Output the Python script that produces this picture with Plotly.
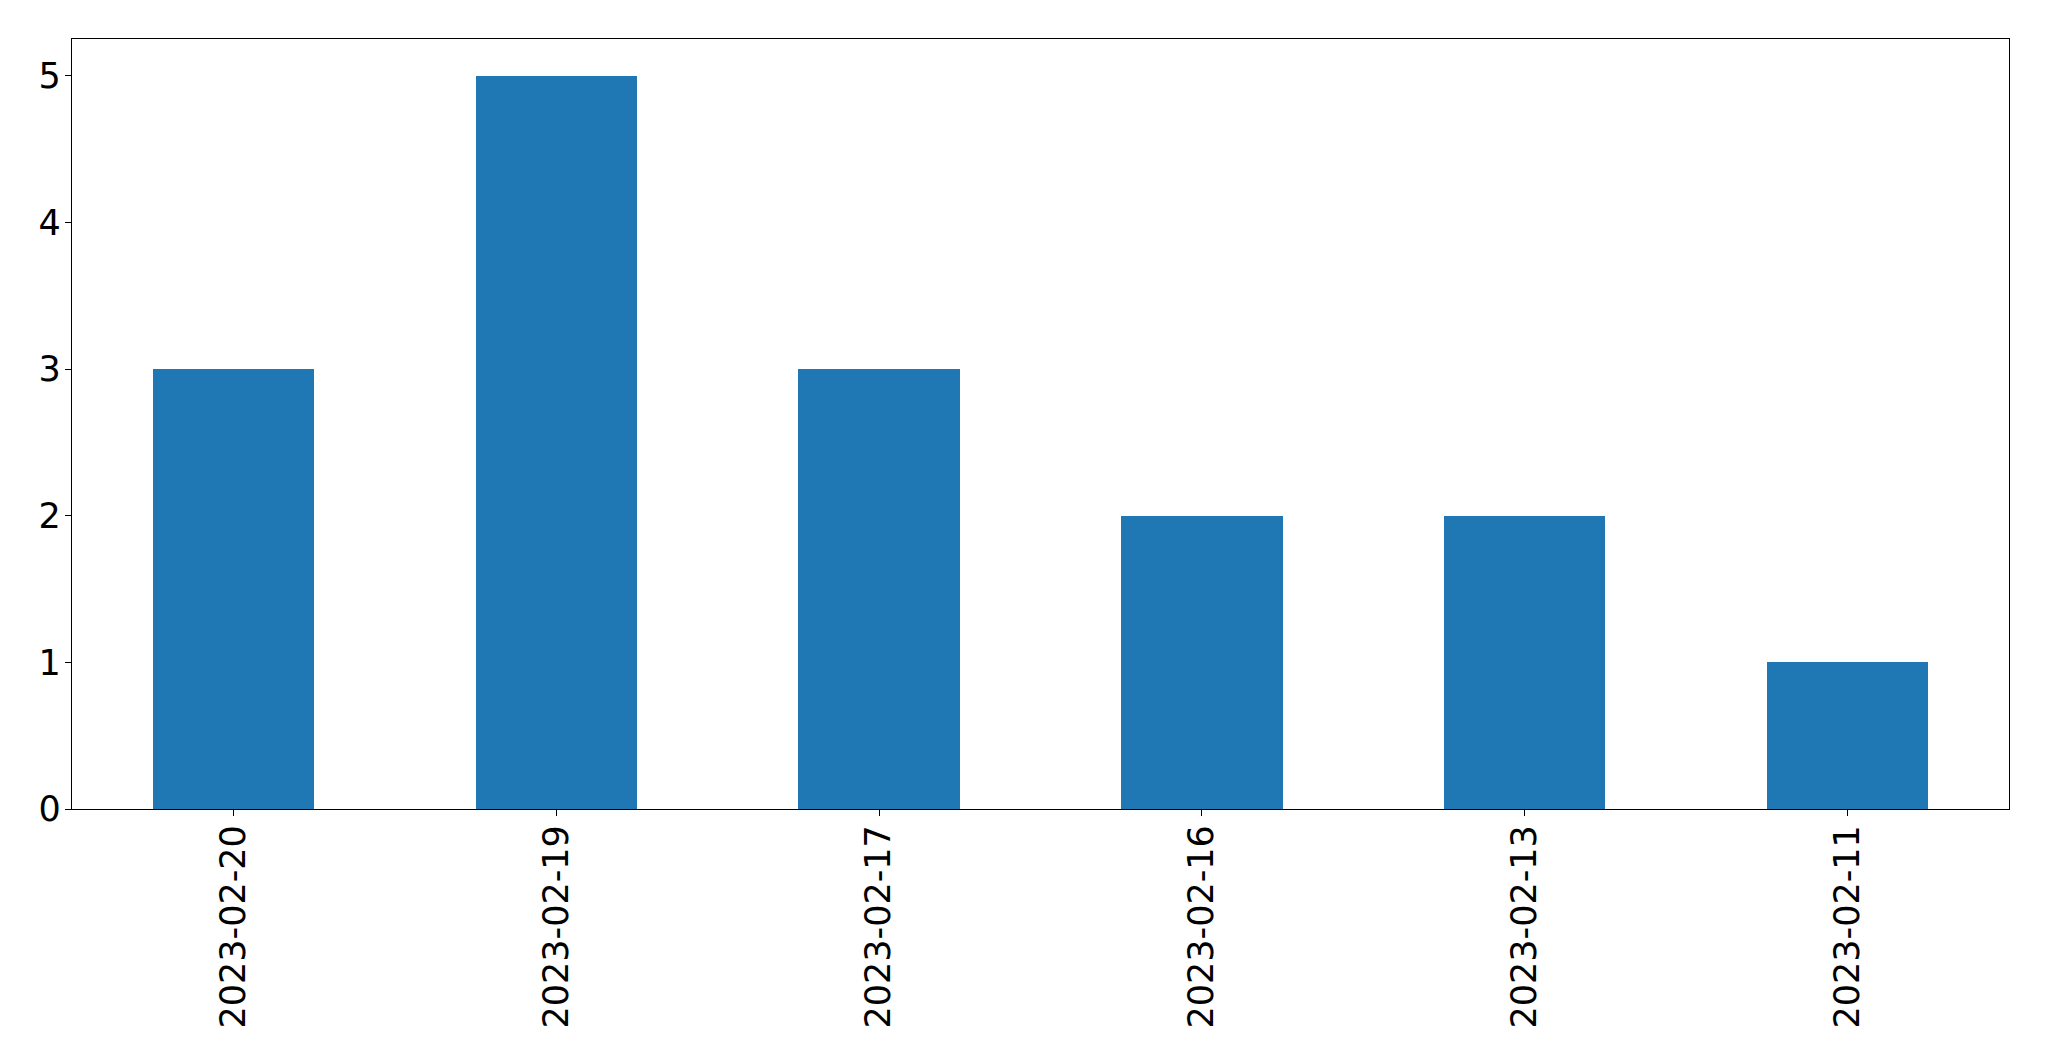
import plotly.graph_objects as go

categories = ["2023-02-20", "2023-02-19", "2023-02-17", "2023-02-16", "2023-02-13", "2023-02-11"]
values = [3, 5, 3, 2, 2, 1]
y_ticks = [0, 1, 2, 3, 4, 5]

fig = go.Figure(go.Bar(x=categories, y=values, marker=dict(color="#1f77b4", line=dict(width=0)), width=0.5))

# page body has an 8px default margin, so the figure is offset by (8, 8)
W, H = 2041, 1053
fig.update_layout(
    width=W, height=H,
    margin=dict(l=64, r=40, t=31, b=252, autoexpand=False),
    paper_bgcolor="white", plot_bgcolor="white",
    font=dict(family="DejaVu Sans", size=35, color="black"),
    showlegend=False,
    bargap=0,
)
fig.update_xaxes(
    type="category", range=[-0.5, 5.5], tickangle=-90,
    showline=True, linecolor="black", linewidth=1.3, mirror=True,
    ticks="outside", ticklen=6, tickwidth=1.3, tickcolor="black",
    ticklabelstandoff=-5,
    showgrid=False, zeroline=False,
)
fig.update_yaxes(
    range=[0, 5.25], tickvals=y_ticks,
    showline=True, linecolor="black", linewidth=1.3, mirror=True,
    ticks="outside", ticklen=6, tickwidth=1.3, tickcolor="black",
    ticklabelstandoff=-3,
    showgrid=False, zeroline=False,
)
fig.write_html("out.html")
